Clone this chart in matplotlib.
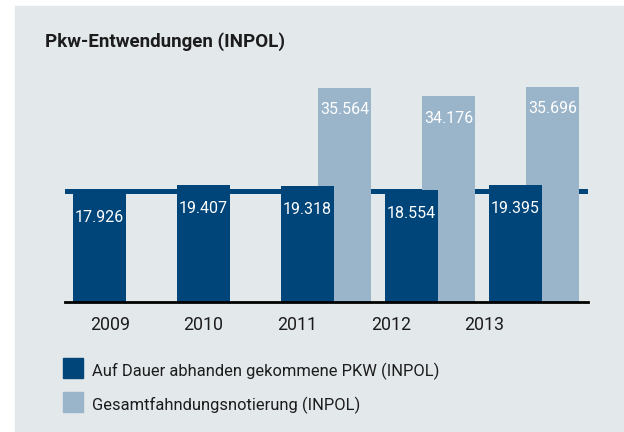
import matplotlib
matplotlib.use("Agg")
import matplotlib.pyplot as plt
from matplotlib.patches import Rectangle
import numpy as np

# data
years = ["2009", "2010", "2011", "2012", "2013"]
dauer = [17.926, 19.407, 19.318, 18.554, 19.395]          # Auf Dauer abhanden gekommene PKW
gesamt = [None, None, 35.564, 34.176, 35.696]              # Gesamtfahndungsnotierung
labels_dauer = ["17.926", "19.407", "19.318", "18.554", "19.395"]
labels_gesamt = [None, None, "35.564", "34.176", "35.696"]
ref_line = 18.45
legend_labels = ["Auf Dauer abhanden gekommene PKW (INPOL)", "Gesamtfahndungsnotierung (INPOL)"]
title = "Pkw-Entwendungen (INPOL)"

DARK = "#00457a"
LIGHT = "#9ab4ca"
PANEL = "#e3e8eb"
TXT = "#1c1c1c"

plt.rcParams["font.family"] = ["Roboto", "DejaVu Sans"]

W, H = 624, 432
fig = plt.figure(figsize=(W / 100, H / 100), dpi=100)
fig.patches.append(Rectangle((15 / W, 0), 1 - 15 / W, (H - 6) / H,
                             transform=fig.transFigure, color=PANEL, zorder=-5))

# axes in pixel layout
x0, x1, ybase, ytop = 65, 588, 302, 60
ax = fig.add_axes([x0 / W, (H - ybase) / H, (x1 - x0) / W, (ybase - ytop) / H])
ax.set_facecolor("none")
ax.set_zorder(2)

px = 104.0  # pixels per group
x = np.arange(len(years))
bw = 53 / px
off = 37 / px

ax.axhline(ref_line, color=DARK, lw=3.6, zorder=1)

for i, v in enumerate(gesamt):
    if v is None:
        continue
    ax.bar(x[i] + off, v, width=bw, align="center", color=LIGHT, zorder=2)
    ax.annotate(labels_gesamt[i], (x[i] + off, v), xytext=(0, -16), textcoords="offset points",
                ha="center", va="center", color="white", fontsize=11.5, zorder=5)
for i, v in enumerate(dauer):
    ax.bar(x[i], v, width=bw, align="center", color=DARK, zorder=3)
    ax.annotate(labels_dauer[i], (x[i], v), xytext=(0, -17), textcoords="offset points",
                ha="center", va="center", color="white", fontsize=11.5, zorder=5)

ax.set_xlim((x0 - 99.5) / px, (x1 - 99.5) / px)
ax.set_ylim(0, (ybase - ytop) / 6.03)

for s in ["top", "right", "left"]:
    ax.spines[s].set_visible(False)
ax.spines["bottom"].set_color("black")
ax.spines["bottom"].set_linewidth(2)
ax.spines["bottom"].set_zorder(6)
ax.set_yticks([])
ax.set_xticks(0.10 + 0.9 * x)
ax.set_xticklabels(years, fontsize=12.8, color=TXT)
ax.tick_params(axis="x", length=0, pad=10)

fig.text(45 / W, 1 - 42 / H, title, fontsize=13.5, fontweight="bold", color=TXT,
         ha="left", va="center")

# legend
for j, (lab, col) in enumerate(zip(legend_labels, [DARK, LIGHT])):
    yc = 368 + 34 * j
    fig.patches.append(Rectangle((63 / W, 1 - (yc + 10) / H), 20 / W, 20 / H,
                                 transform=fig.transFigure, color=col, zorder=2))
    fig.text(92 / W, 1 - (yc + 3) / H, lab, fontsize=11.9, color=TXT, ha="left", va="center")

fig.savefig("out.png", dpi=100)
